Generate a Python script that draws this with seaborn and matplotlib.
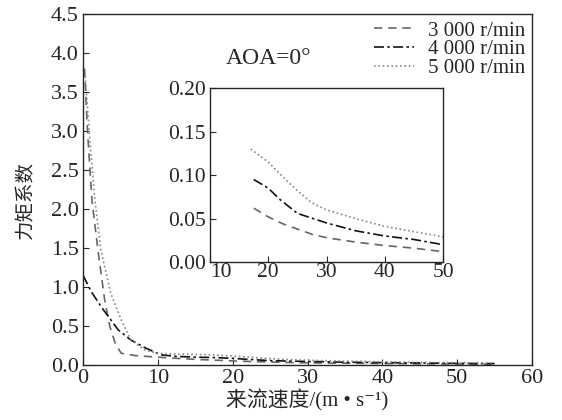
import numpy as np
import pandas as pd
import matplotlib
matplotlib.use('Agg')
import matplotlib.pyplot as plt
import seaborn as sns

# speeds (m/s) and torque coefficients
x_3000 = [0.2, 0.6, 1.2, 2.0, 2.9, 3.6, 4.3, 5.1, 7.0, 10.0, 12.5, 15.0, 17.5, 20.0, 22.5, 25.0,
          27.5, 30.0, 35.0, 40.0, 45.0, 50.0, 55.0]
y_3000 = [3.8, 3.0, 2.1, 1.47, 0.83, 0.49, 0.28, 0.15, 0.12, 0.10, 0.085, 0.072, 0.062, 0.052, 0.044, 0.038,
          0.032, 0.028, 0.023, 0.019, 0.016, 0.012, 0.010]

x_4000 = [0.0, 1.1, 2.4, 4.7, 6.4, 8.3, 10.4, 12.5, 15.0, 17.5, 20.0, 22.0, 25.0, 30.0, 35.0,
          40.0, 45.0, 50.0, 55.0]
y_4000 = [1.15, 0.94, 0.75, 0.45, 0.32, 0.22, 0.13, 0.11, 0.10, 0.095, 0.085, 0.072, 0.056, 0.045, 0.036,
          0.030, 0.026, 0.020, 0.018]

x_5000 = [0.3, 0.9, 1.6, 2.4, 3.7, 5.1, 6.4, 8.3, 10.0, 12.5, 15.0, 17.0, 20.0, 22.5, 25.0, 27.5,
          30.0, 35.0, 40.0, 45.0, 50.0, 55.0]
y_5000 = [3.7, 2.9, 2.1, 1.47, 0.92, 0.58, 0.32, 0.19, 0.15, 0.14, 0.135, 0.13, 0.115, 0.098, 0.082, 0.068,
          0.060, 0.050, 0.041, 0.035, 0.029, 0.025]

labels = ['3 000 r/min', '4 000 r/min', '5 000 r/min']

sns.set_style('ticks')
plt.rcParams['font.family'] = ['Liberation Serif', 'Noto Sans CJK SC', 'DejaVu Sans']
plt.rcParams['axes.linewidth'] = 1.0

frames = []
for lab, xs, ys in zip(labels, [x_3000, x_4000, x_5000], [y_3000, y_4000, y_5000]):
    frames.append(pd.DataFrame({'speed': xs, 'cm': ys, 'rpm': lab}))
df = pd.concat(frames, ignore_index=True)

palette = {labels[0]: '#666666', labels[1]: '#111111', labels[2]: '#888888'}
dashes = {labels[0]: (5, 3.5), labels[1]: (6, 2, 1.5, 2), labels[2]: (1, 1.6)}

fig = plt.figure(figsize=(5.62, 4.2), dpi=100)
ax = fig.add_axes([0.1477, 0.131, 0.799, 0.836])
sns.lineplot(data=df, x='speed', y='cm', hue='rpm', style='rpm', palette=palette, dashes=dashes,
             linewidth=1.2, ax=ax, sort=False)
ax.set_xlim(0, 60)
ax.set_ylim(0, 4.5)
ax.set_xticks(np.arange(0, 61, 10))
ax.set_yticks(np.arange(0, 4.51, 0.5))
ax.yaxis.set_major_formatter(matplotlib.ticker.FormatStrFormatter('%.1f'))
ax.tick_params(direction='in', labelsize=16, length=4, pad=3, top=False, right=False)
ax.set_xlabel('来流速度/(m • s⁻¹)', fontsize=15, labelpad=1)
ax.set_ylabel('力矩系数', fontsize=14)
ax.yaxis.set_label_coords(-0.107, 0.47)
leg = ax.legend(loc='upper right', frameon=False, fontsize=15, handlelength=1.9,
                borderaxespad=0.1, borderpad=0.25, labelspacing=-0.05, handletextpad=0.67)
ax.text(0.317, 0.858, 'AOA=0°', transform=ax.transAxes, fontsize=17)

# zoomed inset
axin = fig.add_axes([0.3737, 0.376, 0.4146, 0.414])
sub = df[df['speed'] >= 17]
sns.lineplot(data=sub, x='speed', y='cm', hue='rpm', style='rpm', palette=palette, dashes=dashes,
             linewidth=1.2, ax=axin, legend=False, sort=False)
axin.set_xlim(10, 50)
axin.set_ylim(0, 0.2)
axin.set_xticks(np.arange(10, 51, 10))
axin.set_yticks(np.arange(0, 0.201, 0.05))
axin.yaxis.set_major_formatter(matplotlib.ticker.FormatStrFormatter('%.2f'))
axin.tick_params(direction='in', labelsize=15.5, length=4, pad=1)
axin.tick_params(axis='y', pad=3)
# first x label sits right of its tick, clear of 0.00
axin.get_xticklabels()[0].set_horizontalalignment('left')
axin.set_xlabel('')
axin.set_ylabel('')

fig.savefig('out.png', dpi=100)
